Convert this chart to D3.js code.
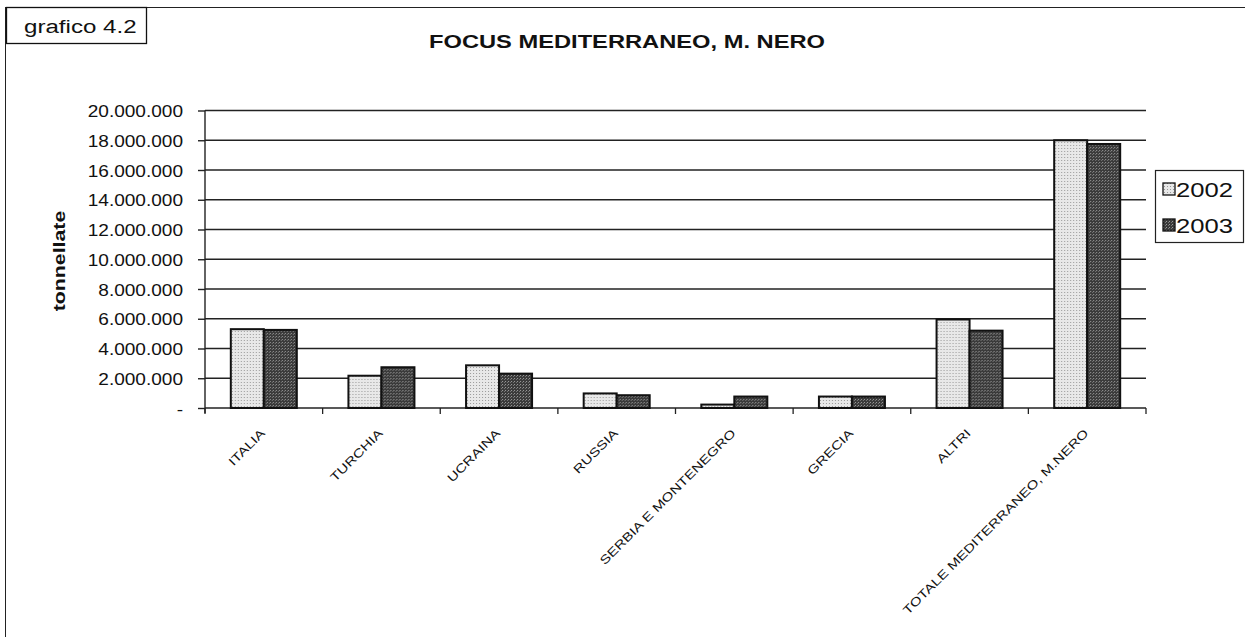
<!DOCTYPE html>
<html><head><meta charset="utf-8">
<script src="https://cdn.jsdelivr.net/npm/d3@7"></script>
<style>
body{margin:0;background:#fff;}
svg{font-family:"Liberation Sans",Arial,sans-serif;}
</style></head>
<body><svg id="c" width="1245" height="637"></svg>
<script>
const categories = ["ITALIA","TURCHIA","UCRAINA","RUSSIA","SERBIA E MONTENEGRO","GRECIA","ALTRI","TOTALE MEDITERRANEO, M.NERO"];
const seriesNames = ["2002","2003"];
const values2002 = [5300000, 2170000, 2870000, 980000, 230000, 770000, 5950000, 18000000];
const values2003 = [5250000, 2740000, 2310000, 860000, 770000, 770000, 5200000, 17750000];
const yTicks = [0,2000000,4000000,6000000,8000000,10000000,12000000,14000000,16000000,18000000,20000000];

const svg = d3.select("#c");
function stretch(sel, k){
  sel.each(function(){
    const len = this.getComputedTextLength();
    d3.select(this).attr("textLength", len*k).attr("lengthAdjust","spacingAndGlyphs");
  });
}
const defs = svg.append("defs");
const p1 = defs.append("pattern").attr("id","pl").attr("width",3).attr("height",3).attr("patternUnits","userSpaceOnUse");
p1.append("rect").attr("width",3).attr("height",3).attr("fill","#e8e8e8");
p1.append("rect").attr("x",1).attr("y",1).attr("width",1).attr("height",1).attr("fill","#999");
const p2 = defs.append("pattern").attr("id","pd").attr("width",3).attr("height",3).attr("patternUnits","userSpaceOnUse");
p2.append("rect").attr("width",3).attr("height",3).attr("fill","#3a3a3a");
p2.append("rect").attr("x",0).attr("y",0).attr("width",1).attr("height",1).attr("fill","#9a9a9a");
p2.append("rect").attr("x",2).attr("y",1).attr("width",1).attr("height",1).attr("fill","#777");
const fills = {"2002":"url(#pl)","2003":"url(#pd)"};

const L=205, R=1146, T=110.5, B=408;
const x0 = d3.scaleBand().domain(categories).range([L,R]).paddingInner(0).paddingOuter(0);
const x1 = d3.scaleBand().domain(seriesNames).range([0,66]);
const y = d3.scaleLinear().domain([0,20000000]).range([B,T]);

// outer frame
svg.append("line").attr("x1",5.5).attr("x2",5.5).attr("y1",7).attr("y2",637).attr("stroke","#222").attr("stroke-width",1);
svg.append("line").attr("x1",5).attr("x2",1245).attr("y1",7.5).attr("y2",7.5).attr("stroke","#222").attr("stroke-width",1);
// grafico box
svg.append("rect").attr("x",6.5).attr("y",7.5).attr("width",140).attr("height",36).attr("fill","#fff").attr("stroke","#111").attr("stroke-width",1.3);
svg.append("text").attr("x",24).attr("y",33).attr("font-size",18).attr("fill","#111").text("grafico 4.2").call(stretch,1.34);

// title
svg.append("text").attr("x",627).attr("y",48).attr("text-anchor","middle").attr("font-size",18.5).attr("font-weight","bold").attr("fill","#111").text("FOCUS MEDITERRANEO, M. NERO").call(stretch,1.28);

// gridlines
svg.append("g").selectAll("line").data(yTicks.slice(1)).join("line")
  .attr("x1",L).attr("x2",R).attr("y1",d=>y(d)).attr("y2",d=>y(d))
  .attr("stroke","#222").attr("stroke-width",1.4);

// y axis
const fmt = d => d===0 ? "-" : d3.format(",")(d).replace(/,/g,".");
const yAxis = svg.append("g").attr("transform",`translate(${L},0)`)
  .call(d3.axisLeft(y).tickValues(yTicks).tickFormat(fmt).tickSize(7).tickPadding(15));
yAxis.select(".domain").attr("stroke","#222").attr("stroke-width",1.4).attr("d",`M0,${T}V${B+5}`);
yAxis.selectAll(".tick line").attr("stroke","#222").attr("stroke-width",1.4);
yAxis.selectAll("text").attr("font-size",17).attr("fill","#111").attr("dy","0.36em").call(stretch,1.12);

// x axis
const xAxis = svg.append("g").attr("transform",`translate(0,${B})`)
  .call(d3.axisBottom(x0).tickSize(0).tickFormat(""));
xAxis.select(".domain").attr("stroke","#222").attr("stroke-width",1.4).attr("d",`M${L},0H${R}`);
xAxis.append("g").selectAll("line").data(d3.range(categories.length+1)).join("line")
  .attr("x1",i=>L+i*x0.step()).attr("x2",i=>L+i*x0.step()).attr("y1",0).attr("y2",6)
  .attr("stroke","#222").attr("stroke-width",1.3);

// x labels
svg.append("g").selectAll("text").data(categories).join("text")
  .attr("transform",d=>`translate(${x0(d)+x0.bandwidth()/2+2},${B+26}) rotate(-45)`)
  .attr("text-anchor","end").attr("font-size",12).attr("fill","#111").text(d=>d).call(stretch,1.28);

// bars
const data = categories.map((c,i)=>({c, vals:[{s:"2002",v:values2002[i]},{s:"2003",v:values2003[i]}]}));
const g = svg.append("g").selectAll("g").data(data).join("g")
  .attr("transform",d=>`translate(${x0(d.c)+x0.bandwidth()/2-33},0)`);
g.selectAll("rect").data(d=>d.vals).join("rect")
  .attr("x",d=>x1(d.s)).attr("width",x1.bandwidth())
  .attr("y",d=>y(d.v)).attr("height",d=>B-y(d.v))
  .attr("fill",d=>fills[d.s]).attr("stroke","#111").attr("stroke-width",2);

// y label
svg.append("text").attr("transform","translate(65,261) rotate(-90)").attr("text-anchor","middle")
  .attr("font-size",16).attr("font-weight","bold").attr("fill","#111").text("tonnellate").call(stretch,1.33);

// legend
const lg = svg.append("g");
lg.append("rect").attr("x",1155.5).attr("y",170.5).attr("width",88).attr("height",72).attr("fill","#fff").attr("stroke","#222").attr("stroke-width",1.2);
const li = lg.selectAll("g").data(seriesNames).join("g").attr("transform",(d,i)=>`translate(1163,${197+i*36})`);
li.append("rect").attr("x",0).attr("y",-14).attr("width",12).attr("height",12).attr("fill",d=>fills[d]).attr("stroke","#111").attr("stroke-width",1.3);
li.append("text").attr("x",13).attr("y",0).attr("font-size",21).attr("fill","#111").text(d=>d).call(stretch,1.22);
</script></body></html>
